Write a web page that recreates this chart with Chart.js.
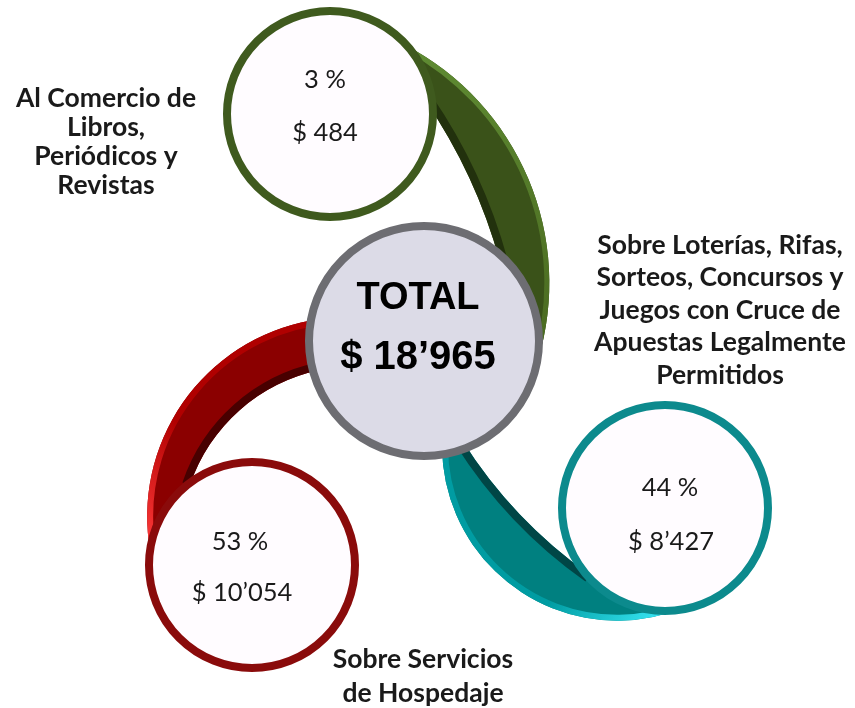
<!DOCTYPE html>
<html lang="es">
<head>
  <meta charset="UTF-8">
  <title>Recaudación total</title>
  <script src="https://cdn.jsdelivr.net/npm/chart.js"></script>
  <style>
    html, body { margin: 0; padding: 0; background: #fff; }
    #wrap { width: 855px; height: 708px; }
  </style>
</head>
<body>
<div id="wrap"><canvas id="chart" width="855" height="708"></canvas></div>
<script>
// ---- data ----
const categories = [
  ['Al Comercio de', 'Libros,', 'Periódicos y', 'Revistas'],
  ['Sobre Loterías, Rifas,', 'Sorteos, Concursos y', 'Juegos con Cruce de', 'Apuestas Legalmente', 'Permitidos'],
  ['Sobre Servicios', 'de Hospedaje']
];
const shares = [3, 44, 53];
const amounts = [484, 8427, 10054];
const totalLabel = 'TOTAL';
const totalAmount = 18965;

// ---- layout (frame of 855 x 708) ----
const centers = [[330, 114], [665, 508], [252, 565]];
const hub = [424, 341];
const valueSpots = [[[325, 80], [325, 133]], [[670, 488], [671, 542]], [[240, 542], [242, 593]]];
const labelSpots = [[106, 98, 29], [720, 245, 32.5], [423, 659, 34]];

// ribbon edges: outer arc (3 pts), inner arc (3 pts)
const ribbons = [
  { outer: [[405, 45], [523, 167], [538, 360]], inner: [[500, 262], [467, 173], [425, 100]] },
  { outer: [[442, 448], [497, 573], [685, 607]], inner: [[590, 575], [513, 507], [462, 440]] },
  { outer: [[330, 318], [190, 393], [150, 550]], inner: [[190, 485], [223, 427], [320, 370]] }
];
const palette = [
  { ring: '#3f5a1e', main: '#3a5219', rimA: '#4a6a20', rimB: '#5f8c33', dark: '#22310d' },
  { ring: '#0c8a8d', main: '#008080', rimA: '#009ca2', rimB: '#3ff0ff', dark: '#004646' },
  { ring: '#8a0b0b', main: '#8b0000', rimA: '#b00000', rimB: '#ff3a3a', dark: '#480000' }
];

function fmt(n) {
  return String(n).replace(/\B(?=(\d{3})+(?!\d))/g, '\u2019');
}

function arcThrough(ctx, a, b, c) {
  const s = p => p[0] * p[0] + p[1] * p[1];
  const d = 2 * (a[0] * (b[1] - c[1]) + b[0] * (c[1] - a[1]) + c[0] * (a[1] - b[1]));
  const ux = (s(a) * (b[1] - c[1]) + s(b) * (c[1] - a[1]) + s(c) * (a[1] - b[1])) / d;
  const uy = (s(a) * (c[0] - b[0]) + s(b) * (a[0] - c[0]) + s(c) * (b[0] - a[0])) / d;
  const r = Math.hypot(a[0] - ux, a[1] - uy);
  const cross = (b[0] - a[0]) * (c[1] - a[1]) - (b[1] - a[1]) * (c[0] - a[0]);
  ctx.arc(ux, uy, r, Math.atan2(a[1] - uy, a[0] - ux), Math.atan2(c[1] - uy, c[0] - ux), cross < 0);
}

const ribbonPlugin = {
  id: 'ribbons',
  beforeDatasetsDraw(chart) {
    const ctx = chart.ctx;
    const xs = chart.scales.x, ys = chart.scales.y;
    const px = p => [xs.getPixelForValue(p[0]), ys.getPixelForValue(p[1])];
    ribbons.forEach((rb, i) => {
      const o = rb.outer.map(px), n = rb.inner.map(px);
      const col = palette[i];
      ctx.save();
      ctx.beginPath();
      ctx.moveTo(o[0][0], o[0][1]);
      arcThrough(ctx, o[0], o[1], o[2]);
      ctx.lineTo(n[0][0], n[0][1]);
      arcThrough(ctx, n[0], n[1], n[2]);
      ctx.closePath();
      ctx.fillStyle = col.main;
      ctx.fill();
      ctx.clip();
      // light rim on the outer edge
      const g = ctx.createLinearGradient(o[0][0], o[0][1], o[2][0], o[2][1]);
      if (i === 0) { g.addColorStop(0, col.rimB); g.addColorStop(1, col.rimA); }
      else { g.addColorStop(0, col.rimA); g.addColorStop(0.6, col.rimA); g.addColorStop(1, col.rimB); }
      ctx.beginPath();
      ctx.moveTo(o[0][0], o[0][1]);
      arcThrough(ctx, o[0], o[1], o[2]);
      ctx.strokeStyle = g;
      ctx.lineWidth = i === 0 ? 10 : 12;
      ctx.stroke();
      // dark shade on the inner edge
      ctx.beginPath();
      ctx.moveTo(n[0][0], n[0][1]);
      arcThrough(ctx, n[0], n[1], n[2]);
      ctx.strokeStyle = col.dark;
      ctx.lineWidth = 16;
      ctx.stroke();
      ctx.restore();
    });
  }
};

const textPlugin = {
  id: 'texts',
  afterDatasetsDraw(chart) {
    const ctx = chart.ctx;
    const xs = chart.scales.x, ys = chart.scales.y;
    ctx.save();
    ctx.textAlign = 'center';
    ctx.textBaseline = 'middle';
    ctx.fillStyle = '#1a1a1a';
    ctx.font = '25.5px Lato, "Open Sans", sans-serif';
    shares.forEach((v, i) => {
      const a = valueSpots[i][0], b = valueSpots[i][1];
      ctx.fillText(v + ' %', xs.getPixelForValue(a[0]), ys.getPixelForValue(a[1]));
      ctx.fillText('$ ' + fmt(amounts[i]), xs.getPixelForValue(b[0]), ys.getPixelForValue(b[1]));
    });
    ctx.font = 'bold 26.5px Lato, "Open Sans", sans-serif';
    categories.forEach((lines, i) => {
      const [lx, ly, step] = labelSpots[i];
      lines.forEach((t, k) => ctx.fillText(t, xs.getPixelForValue(lx), ys.getPixelForValue(ly + k * step)));
    });
    ctx.fillStyle = '#000';
    ctx.font = 'bold 38px "Liberation Sans", Arial, sans-serif';
    ctx.fillText(totalLabel, xs.getPixelForValue(418), ys.getPixelForValue(299));
    ctx.font = 'bold 40px "Liberation Sans", Arial, sans-serif';
    ctx.fillText('$ ' + fmt(totalAmount), xs.getPixelForValue(418), ys.getPixelForValue(358));
    ctx.restore();
  }
};

const points = centers.map(c => ({ x: c[0], y: c[1], r: 103 }));
points.push({ x: hub[0], y: hub[1], r: 115 });

new Chart(document.getElementById('chart').getContext('2d'), {
  type: 'bubble',
  data: {
    datasets: [{
      data: points,
      backgroundColor: ['#fffcff', '#fffcff', '#fffcff', '#dcdbe7'],
      borderColor: palette.map(p => p.ring).concat('#6d6d72'),
      borderWidth: 8,
      hoverRadius: 0,
      hoverBorderWidth: 8,
      clip: false
    }]
  },
  options: {
    responsive: false,
    animation: false,
    events: [],
    layout: { padding: 0, autoPadding: false },
    plugins: { legend: { display: false }, tooltip: { enabled: false } },
    scales: {
      x: { type: 'linear', min: 0, max: 855, display: false },
      y: { type: 'linear', min: 0, max: 708, reverse: true, display: false }
    }
  },
  plugins: [ribbonPlugin, textPlugin]
});
</script>
</body>
</html>
